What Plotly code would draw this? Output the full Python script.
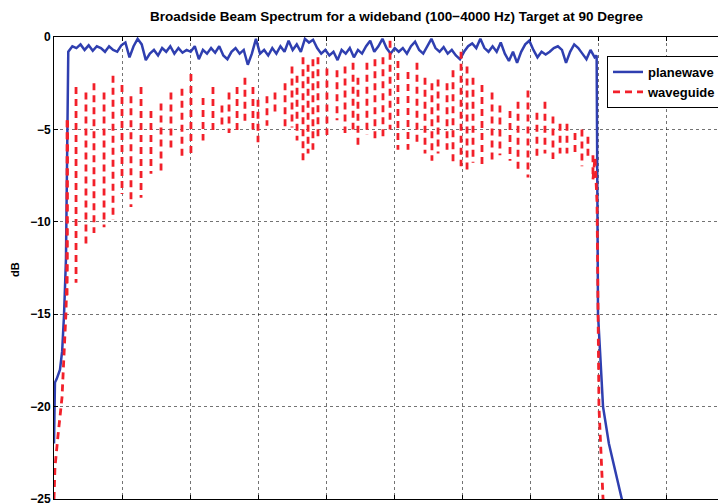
import plotly.graph_objects as go

# ---- data (frequency in Hz, level in dB) ----
# waveguide: rising edge, oscillation columns (top / bottom of each swing), falling edge
red_rise_freq = [0, 7, 29, 59, 88, 96, 100]
red_rise_db = [-25, -23.3, -21.6, -19.5, -14.9, -12.5, -4.5]
red_col_freq = [96, 162, 235, 294, 368, 434, 500, 566, 640, 713, 787, 860, 941, 1007,
                1096, 1169, 1235, 1287, 1346, 1404, 1463, 1500, 1566, 1625, 1699,
                1750, 1787, 1831, 1868, 1904, 1941, 2007, 2081, 2140, 2199, 2235,
                2301, 2360, 2419, 2471, 2529, 2603, 2669, 2728, 2779, 2824, 2890,
                2934, 2993, 3037, 3081, 3147, 3221, 3279, 3353, 3412, 3485, 3551,
                3610, 3669, 3721, 3772, 3831, 3882, 3926, 3963]
red_col_top = [-4.5, -2.7, -3.0, -2.5, -3.0, -2.1, -2.6, -3.2, -2.7, -4.0, -3.6, -3.0, -2.8, -2.0,
               -3.3, -2.7, -3.7, -3.0, -2.7, -2.2, -2.7, -3.4, -3.2, -3.0, -2.5,
               -1.6, -2.1, -1.1, -1.5, -1.2, -1.1, -1.7, -1.8, -1.6, -1.4, -2.2,
               -1.4, -1.2, -1.1, -0.2, -1.3, -1.9, -1.4, -2.2, -2.5, -2.3, -2.5,
               -1.8, -0.8, -1.6, -2.2, -2.6, -3.0, -3.7, -4.0, -3.5, -2.9, -4.1,
               -3.5, -4.3, -4.7, -4.7, -5.2, -5.0, -5.4, -6.4]
red_col_bot = [-14.0, -13.3, -11.4, -10.6, -10.3, -9.9, -8.5, -9.2, -8.7, -7.4, -7.4, -6.0, -6.5, -6.3,
               -5.6, -5.2, -4.8, -5.2, -5.1, -4.8, -5.0, -5.7, -4.8, -4.3, -5.0,
               -4.9, -5.6, -6.7, -6.3, -6.1, -5.6, -5.3, -4.5, -5.2, -5.0, -6.0,
               -5.3, -5.7, -5.5, -5.0, -6.1, -6.1, -5.9, -6.3, -6.7, -6.3, -6.1,
               -6.8, -7.0, -7.2, -6.8, -7.0, -6.7, -6.4, -6.7, -7.2, -7.6, -6.7,
               -6.3, -6.6, -6.3, -6.3, -6.3, -7.0, -6.5, -7.7]
red_fall_freq = [3963, 3978, 3993, 4000, 4007, 4022, 4037, 4051]
red_fall_db = [-7.7, -6.5, -9.0, -15.0, -20.0, -22.5, -25.0, -26.0]

# planewave
blue_edge_lo_freq = [0, 7, 20, 44, 60, 74, 88, 96, 100]
blue_edge_lo_db = [-22, -18.7, -18.5, -18.0, -17.0, -15.0, -12.0, -6.0, -1.5]
blue_band_freq = list(range(105, 3976, 30))
blue_band_db = [
    -0.8, -0.5, -0.6, -0.4, -0.7, -0.45, -0.75, -0.5, -0.6, -0.8,
    -0.5, -0.7, -0.8, -0.45, -0.3, -1.1, -0.5, -0.1, -0.4, -1.25,
    -0.9, -0.7, -1.0, -0.6, -0.8, -0.5, -0.9, -0.6, -0.85, -0.7,
    -0.8, -0.5, -1.2, -0.7, -0.9, -0.6, -0.85, -0.5, -1.0, -1.2,
    -0.8, -0.6, -0.9, -0.7, -1.5, -0.9, -0.1, -0.9, -0.7, -1.0,
    -0.6, -0.9, -0.5, -0.8, -0.2, -0.7, -0.4, -0.8, -0.1, -0.3,
    -0.15, -0.6, -0.9, -0.7, -1.0, -0.8, -1.25, -0.7, -0.9, -0.6,
    -1.1, -0.7, -0.9, -0.5, -0.2, -0.8, -0.5, -0.1, -0.6, -0.9,
    -0.6, -0.8, -0.6, -0.9, -0.5, -0.25, -0.7, -0.9, -0.5, -0.1,
    -0.6, -0.8, -0.55, -0.9, -0.7, -1.0, -1.2, -0.8, -0.5, -0.35,
    -0.6, -0.1, -0.6, -0.8, -0.5, -0.8, -0.3, -0.9, -1.3, -0.8,
    -1.4, -0.8, -0.4, -0.2, -0.7, -1.1, -0.8, -0.95, -0.8, -0.6,
    -0.5, -0.7, -1.4, -0.8, -0.4, -0.6, -0.9, -1.2, -0.7, -1.1,
]
blue_edge_hi_freq = [3990, 3997, 4000, 4015, 4037, 4080, 4125, 4175, 4200]
blue_edge_hi_db = [-1.0, -8.0, -15.0, -17.0, -20.0, -22.0, -23.5, -25.0, -25.5]

title_text = "Broadside Beam Spectrum for a wideband (100\u22124000 Hz) Target at 90 Degree"
x_ticks = [0, 500, 1000, 1500, 2000, 2500, 3000, 3500, 4000, 4500]
y_ticks = [0, -5, -10, -15, -20, -25]

# ---- assemble traces ----
blue_freq = blue_edge_lo_freq + blue_band_freq + blue_edge_hi_freq
blue_db = blue_edge_lo_db + blue_band_db + blue_edge_hi_db

red_x = list(red_rise_freq) + [None]
red_y = list(red_rise_db) + [None]
for f, t, b in zip(red_col_freq, red_col_top, red_col_bot):
    red_x += [f, f, None]
    red_y += [t, b, None]
red_x += red_fall_freq
red_y += red_fall_db

FONT = "Liberation Sans"
OFF = 8                       # page body margin
PAGE_W, PAGE_H = 726, 504
PL, PT, PB = 54, 37, 499      # plot area in page pixels
W, H = PAGE_W - OFF, PAGE_H - OFF
ML, MT = PL - OFF, PT - OFF
MB = H - (PB - OFF)
PW, PH = W - ML, H - MT - MB


def px(xp):
    return (xp - PL) / PW


def py(yp):
    return 1 - (yp - PT) / PH


fig = go.Figure()
fig.add_trace(go.Scatter(x=blue_freq, y=blue_db, mode="lines", name="planewave",
                         line=dict(color="#2f3fb0", width=2.5)))
fig.add_trace(go.Scatter(x=red_x, y=red_y, mode="lines", name="waveguide", connectgaps=False,
                         line=dict(color="#f2202a", width=2.8, dash="7px,5px")))

fig.update_layout(
    width=W, height=H,
    margin=dict(l=ML, r=0, t=MT, b=MB, autoexpand=False),
    paper_bgcolor="white", plot_bgcolor="white",
    showlegend=True,
    legend=dict(x=px(607), y=py(56), xanchor="left", yanchor="top",
                bgcolor="white", bordercolor="black", borderwidth=1,
                font=dict(family=FONT, size=13, color="black", weight="bold"),
                tracegroupgap=0, itemwidth=30),
    annotations=[
        dict(text=title_text, xref="paper", yref="paper", x=px(397), y=py(16),
             xanchor="center", yanchor="middle", showarrow=False,
             font=dict(family=FONT, size=13.5, color="black", weight="bold")),
        dict(text="dB", xref="paper", yref="paper", x=px(15), y=py(270),
             xanchor="center", yanchor="middle", textangle=-90, showarrow=False,
             font=dict(family=FONT, size=11, color="black", weight="bold")),
    ],
)
fig.update_xaxes(range=[0, (PAGE_W - PL) * 500 / 68], tickvals=x_ticks, showticklabels=False,
                 ticks="inside", ticklen=4, tickcolor="black",
                 showline=True, linecolor="black", linewidth=1, mirror="ticks",
                 showgrid=True, gridcolor="rgba(0,0,0,0.55)", griddash="dot", gridwidth=1,
                 zeroline=False, automargin=False)
fig.update_yaxes(range=[-25, 0], tickvals=y_ticks,
                 ticktext=[str(v).replace("-", "\u2212") for v in y_ticks],
                 ticks="inside", ticklen=4, tickcolor="black", ticklabeloverflow="allow",
                 showline=True, linecolor="black", linewidth=1, mirror=False,
                 showgrid=True, gridcolor="rgba(0,0,0,0.55)", griddash="dot", gridwidth=1,
                 zeroline=False, automargin=False,
                 tickfont=dict(family=FONT, size=12, color="black", weight="bold"))

fig.write_html("out.html")
